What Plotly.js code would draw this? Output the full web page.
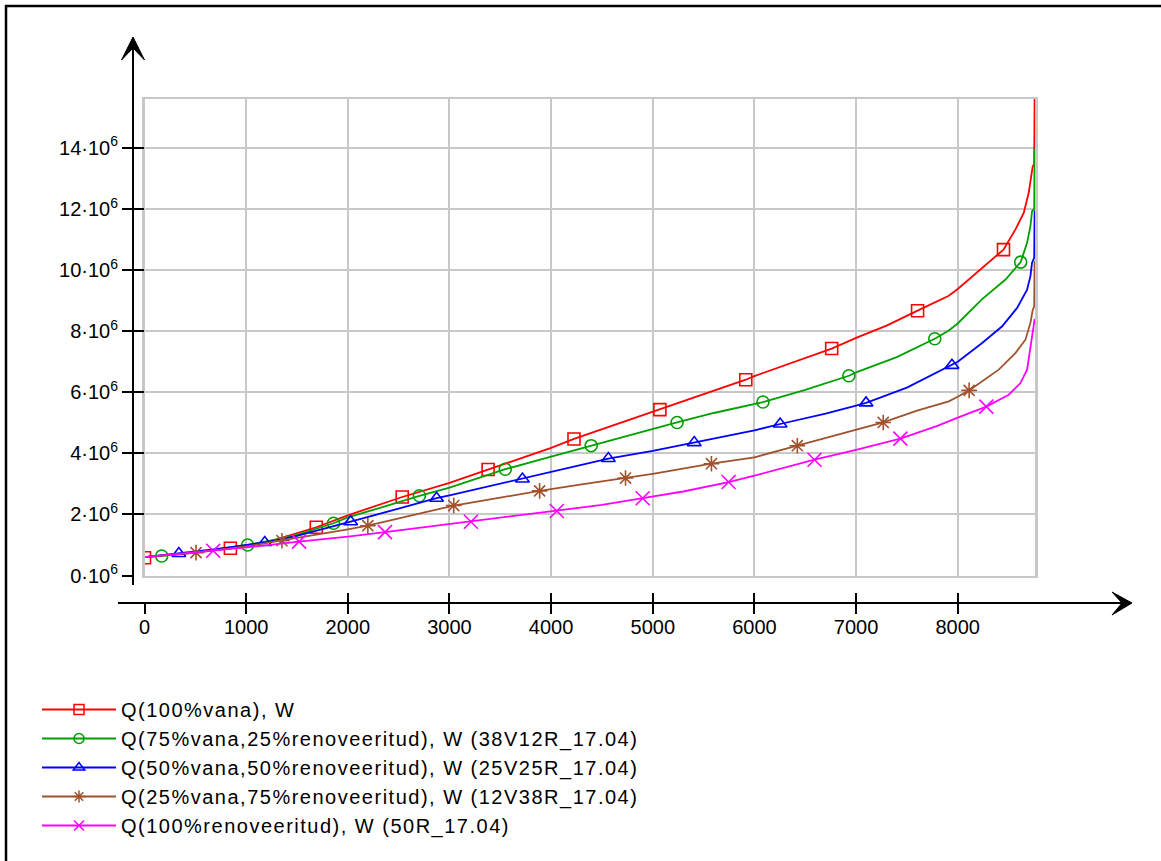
<!DOCTYPE html>
<html>
<head>
<meta charset="utf-8">
<script src="https://cdn.plot.ly/plotly-3.0.1.min.js"></script>
<style>
  html, body { margin: 0; padding: 0; background: #ffffff; }
  #chart { width: 1161px; height: 861px; }
  #chart .legendtext { letter-spacing: 1.5px; }
  #chart .legend .scrollbox { clip-path: none !important; }
</style>
</head>
<body>
<div id="chart"></div>
<script>
// ---------- data (hours of the year vs. heat load Q in W) ----------
const seriesNames = [
  "Q(100%vana), W",
  "Q(75%vana,25%renoveeritud), W (38V12R_17.04)",
  "Q(50%vana,50%renoveeritud), W (25V25R_17.04)",
  "Q(25%vana,75%renoveeritud), W (12V38R_17.04)",
  "Q(100%renoveeritud), W (50R_17.04)"
];

const redX = [0, 400, 845, 1000, 1300, 1690, 2000, 2300, 2535, 3000, 3380, 3700, 4000, 4225, 4600, 5000, 5070, 5500, 5915, 6000, 6500, 6760, 7000, 7300, 7605, 7912, 8000, 8240, 8450, 8568, 8649, 8698, 8725, 8738, 8752, 8756];
const redY = [0.60e6, 0.72e6, 0.89e6, 0.95e6, 1.18e6, 1.58e6, 1.97e6, 2.30e6, 2.57e6, 3.03e6, 3.47e6, 3.82e6, 4.18e6, 4.47e6, 4.90e6, 5.35e6, 5.43e6, 5.92e6, 6.41e6, 6.53e6, 7.12e6, 7.43e6, 7.78e6, 8.18e6, 8.67e6, 9.16e6, 9.38e6, 10.07e6, 10.67e6, 11.33e6, 11.87e6, 12.53e6, 13.07e6, 13.40e6, 13.45e6, 15.60e6];

const greenX = [0, 169, 500, 1014, 1300, 1500, 1859, 2000, 2300, 2704, 3000, 3549, 4000, 4394, 5000, 5239, 5600, 6000, 6084, 6500, 6929, 7000, 7400, 7774, 7912, 8000, 8240, 8470, 8619, 8682, 8715, 8731, 8752, 8756];
const greenY = [0.60e6, 0.64e6, 0.76e6, 1.00e6, 1.18e6, 1.33e6, 1.71e6, 1.90e6, 2.20e6, 2.61e6, 2.88e6, 3.48e6, 3.89e6, 4.25e6, 4.80e6, 5.01e6, 5.32e6, 5.63e6, 5.68e6, 6.08e6, 6.54e6, 6.65e6, 7.15e6, 7.75e6, 8.02e6, 8.25e6, 9.05e6, 9.69e6, 10.26e6, 10.89e6, 11.44e6, 11.93e6, 12.00e6, 13.97e6];

const blueX = [0, 338, 700, 1183, 1500, 2028, 2400, 2873, 3000, 3400, 3718, 4000, 4563, 5000, 5408, 6000, 6253, 6700, 7000, 7098, 7500, 7943, 8000, 8240, 8437, 8584, 8682, 8715, 8731, 8752, 8756];
const blueY = [0.60e6, 0.72e6, 0.86e6, 1.08e6, 1.30e6, 1.76e6, 2.10e6, 2.53e6, 2.62e6, 2.93e6, 3.16e6, 3.38e6, 3.83e6, 4.08e6, 4.35e6, 4.75e6, 4.96e6, 5.30e6, 5.56e6, 5.65e6, 6.15e6, 6.88e6, 7.00e6, 7.61e6, 8.16e6, 8.76e6, 9.36e6, 9.80e6, 10.24e6, 10.40e6, 11.95e6];

const brownX = [0, 507, 1000, 1352, 1700, 2000, 2197, 2600, 3042, 3500, 3887, 4300, 4732, 5000, 5577, 6000, 6422, 7000, 7267, 7600, 7912, 8000, 8112, 8403, 8567, 8666, 8715, 8738, 8752, 8756];
const brownY = [0.60e6, 0.75e6, 0.95e6, 1.14e6, 1.33e6, 1.51e6, 1.63e6, 1.95e6, 2.29e6, 2.55e6, 2.77e6, 2.98e6, 3.19e6, 3.33e6, 3.66e6, 3.87e6, 4.25e6, 4.77e6, 5.01e6, 5.40e6, 5.70e6, 5.85e6, 6.06e6, 6.74e6, 7.28e6, 7.72e6, 8.27e6, 8.70e6, 8.80e6, 10.30e6];

const magentaX = [0, 676, 1000, 1521, 2000, 2366, 2800, 3211, 3600, 4056, 4500, 4901, 5300, 5746, 6000, 6591, 7000, 7436, 7800, 8000, 8281, 8502, 8617, 8682, 8708, 8731, 8748, 8756];
const magentaY = [0.60e6, 0.81e6, 0.92e6, 1.11e6, 1.27e6, 1.42e6, 1.60e6, 1.76e6, 1.92e6, 2.11e6, 2.31e6, 2.53e6, 2.75e6, 3.06e6, 3.27e6, 3.79e6, 4.11e6, 4.48e6, 4.90e6, 5.17e6, 5.53e6, 5.92e6, 6.30e6, 6.74e6, 7.28e6, 7.70e6, 8.20e6, 8.40e6];

// marker positions along each curve
const redMX = [0, 845, 1690, 2535, 3380, 4225, 5070, 5915, 6760, 7605, 8450];
const redMY = [0.58e6, 0.89e6, 1.58e6, 2.57e6, 3.47e6, 4.47e6, 5.43e6, 6.41e6, 7.43e6, 8.67e6, 10.67e6];
const greenMX = [169, 1014, 1859, 2704, 3549, 4394, 5239, 6084, 6929, 7774, 8619];
const greenMY = [0.64e6, 1.00e6, 1.71e6, 2.61e6, 3.48e6, 4.25e6, 5.01e6, 5.68e6, 6.54e6, 7.75e6, 10.26e6];
const blueMX = [338, 1183, 2028, 2873, 3718, 4563, 5408, 6253, 7098, 7943];
const blueMY = [0.72e6, 1.08e6, 1.76e6, 2.53e6, 3.16e6, 3.83e6, 4.35e6, 4.96e6, 5.65e6, 6.88e6];
const brownMX = [507, 1352, 2197, 3042, 3887, 4732, 5577, 6422, 7267, 8112];
const brownMY = [0.75e6, 1.14e6, 1.63e6, 2.29e6, 2.77e6, 3.19e6, 3.66e6, 4.25e6, 5.01e6, 6.06e6];
const magentaMX = [676, 1521, 2366, 3211, 4056, 4901, 5746, 6591, 7436, 8281];
const magentaMY = [0.81e6, 1.11e6, 1.42e6, 1.76e6, 2.11e6, 2.53e6, 3.06e6, 3.79e6, 4.48e6, 5.53e6];

// axis ticks
const xTickVals = [0, 1000, 2000, 3000, 4000, 5000, 6000, 7000, 8000];
const xTickText = ["0", "1000", "2000", "3000", "4000", "5000", "6000", "7000", "8000"];
const yTickVals = [0, 2e6, 4e6, 6e6, 8e6, 10e6, 12e6, 14e6];
const yTickText = ["0\u00B710<sup>6</sup>", "2\u00B710<sup>6</sup>", "4\u00B710<sup>6</sup>", "6\u00B710<sup>6</sup>",
                   "8\u00B710<sup>6</sup>", "10\u00B710<sup>6</sup>", "12\u00B710<sup>6</sup>", "14\u00B710<sup>6</sup>"];

// ---------- styles ----------
const colors = ["#ff0000", "#00a000", "#0000ff", "#a0522d", "#ff00ff"];
const symbols = ["square-open", "circle-open", "triangle-up-open", "asterisk-open", "x-thin-open"];
const markerSizes = [12, 12, 12, 13, 14];

const lineXs = [redX, greenX, blueX, brownX, magentaX];
const lineYs = [redY, greenY, blueY, brownY, magentaY];
const markXs = [redMX, greenMX, blueMX, brownMX, magentaMX];
const markYs = [redMY, greenMY, blueMY, brownMY, magentaMY];

const FONT = "Liberation Sans, Arial, sans-serif";
const X_RANGE = [0, 8760];
const Y_RANGE = [0, 15.6e6];

// ---------- geometry helpers (pixel -> paper) ----------
const ML = 133, MR = 126, MT = 99, MB = 258;
const PW = 1161 - ML - MR, PH = 861 - MT - MB;
const px = v => (v - ML) / PW;
const py = v => (861 - MB - v) / PH;

const traces = [];
for (let i = 0; i < 5; i++) {
  traces.push({
    type: "scatter", mode: "lines", x: lineXs[i], y: lineYs[i],
    xaxis: "x", yaxis: "y", showlegend: false, hoverinfo: "skip",
    line: { color: colors[i], width: 1.8 }
  });
  traces.push({
    type: "scatter", mode: "markers", x: markXs[i], y: markYs[i],
    xaxis: "x", yaxis: "y", showlegend: false, hoverinfo: "skip",
    marker: { symbol: symbols[i], size: markerSizes[i], color: colors[i], line: { color: colors[i], width: 1.6 } }
  });
}
for (let i = 0; i < 5; i++) {
  traces.push({
    type: "scatter", mode: "lines+markers", x: [null], y: [null],
    xaxis: "x", yaxis: "y", name: seriesNames[i], showlegend: true,
    line: { color: colors[i], width: 1.8 },
    marker: { symbol: symbols[i], size: 10, color: colors[i], line: { color: colors[i], width: 1.5 } }
  });
}

const gridCol = "#c8c8c8";
const tickFont = { family: FONT, size: 20, color: "#000000" };

const layout = {
  width: 1161, height: 861,
  margin: { l: ML, r: MR, t: MT, b: MB, pad: 0 },
  paper_bgcolor: "#ffffff", plot_bgcolor: "#ffffff",
  font: { family: FONT, size: 20, color: "#000000" },
  showlegend: true,
  legend: {
    x: px(37), y: py(690), xanchor: "left", yanchor: "top",
    bgcolor: "rgba(0,0,0,0)", borderwidth: 0, itemwidth: 74,
    font: { family: FONT, size: 20, color: "#000000" },
    traceorder: "normal"
  },
  xaxis: {
    domain: [px(144.5), 1], range: X_RANGE, showgrid: true, gridcolor: gridCol, gridwidth: 2,
    tickmode: "linear", tick0: 0, dtick: 1000, showticklabels: false, ticks: "",
    showline: true, mirror: true, linecolor: gridCol, linewidth: 2.5, zeroline: false, fixedrange: true
  },
  yaxis: {
    domain: [py(575.5), 1], range: Y_RANGE, showgrid: true, gridcolor: gridCol, gridwidth: 2,
    tickmode: "linear", tick0: 0, dtick: 2e6, showticklabels: false, ticks: "",
    showline: true, mirror: true, linecolor: gridCol, linewidth: 2.5, zeroline: false, fixedrange: true
  },
  xaxis2: {
    overlaying: "x", anchor: "free", position: 0, range: X_RANGE,
    tickmode: "array", tickvals: xTickVals, ticktext: xTickText,
    ticks: "outside", ticklen: 10, tickwidth: 2, tickcolor: "#000000", ticklabelstandoff: -4,
    showgrid: false, showline: false, zeroline: false, tickfont: tickFont, fixedrange: true
  },
  xaxis3: {
    overlaying: "x", anchor: "free", position: 0, range: X_RANGE,
    tickmode: "array", tickvals: xTickVals, showticklabels: false,
    ticks: "inside", ticklen: 10, tickwidth: 2, tickcolor: "#000000",
    showgrid: false, showline: false, zeroline: false, fixedrange: true
  },
  yaxis2: {
    overlaying: "y", anchor: "free", position: 0, side: "left", range: Y_RANGE,
    tickmode: "array", tickvals: yTickVals, ticktext: yTickText,
    ticks: "outside", ticklen: 11, tickwidth: 2, tickcolor: "#000000",
    showgrid: false, showline: false, zeroline: false, tickfont: tickFont, fixedrange: true
  },
  yaxis3: {
    overlaying: "y", anchor: "free", position: 0, side: "left", range: Y_RANGE,
    tickmode: "array", tickvals: yTickVals, showticklabels: false,
    ticks: "inside", ticklen: 10, tickwidth: 2, tickcolor: "#000000",
    showgrid: false, showline: false, zeroline: false, fixedrange: true
  },
  shapes: [
    // outer frame (top and left edges)
    { type: "line", xref: "paper", yref: "paper", x0: px(5), x1: px(1170), y0: py(6), y1: py(6), line: { color: "#000000", width: 2.5 } },
    { type: "line", xref: "paper", yref: "paper", x0: px(6), x1: px(6), y0: py(5), y1: py(870), line: { color: "#000000", width: 2.5 } },
    // black axis lines
    { type: "line", xref: "paper", yref: "paper", x0: px(133), x1: px(133), y0: py(585), y1: py(46), line: { color: "#000000", width: 2 } },
    { type: "line", xref: "paper", yref: "paper", x0: px(118), x1: px(1124), y0: py(603), y1: py(603), line: { color: "#000000", width: 2 } },
    // arrow heads
    { type: "path", xref: "paper", yref: "paper", fillcolor: "#000000", line: { color: "#000000", width: 1 },
      path: `M${px(133)},${py(37)} L${px(121.5)},${py(60)} L${px(133)},${py(48)} L${px(144.5)},${py(60)} Z` },
    { type: "path", xref: "paper", yref: "paper", fillcolor: "#000000", line: { color: "#000000", width: 1 },
      path: `M${px(1132)},${py(603)} L${px(1112)},${py(592)} L${px(1122)},${py(603)} L${px(1112)},${py(615)} Z` }
  ]
};

// bind the tick-only axes to an invisible trace so they are drawn
traces.push({ type: "scatter", mode: "lines", x: [0], y: [0], xaxis: "x2", yaxis: "y2", showlegend: false, hoverinfo: "skip", line: { width: 0 }, opacity: 0 });
traces.push({ type: "scatter", mode: "lines", x: [0], y: [0], xaxis: "x3", yaxis: "y3", showlegend: false, hoverinfo: "skip", line: { width: 0 }, opacity: 0 });

Plotly.newPlot("chart", traces, layout, { displayModeBar: false, staticPlot: true });
</script>
</body>
</html>
